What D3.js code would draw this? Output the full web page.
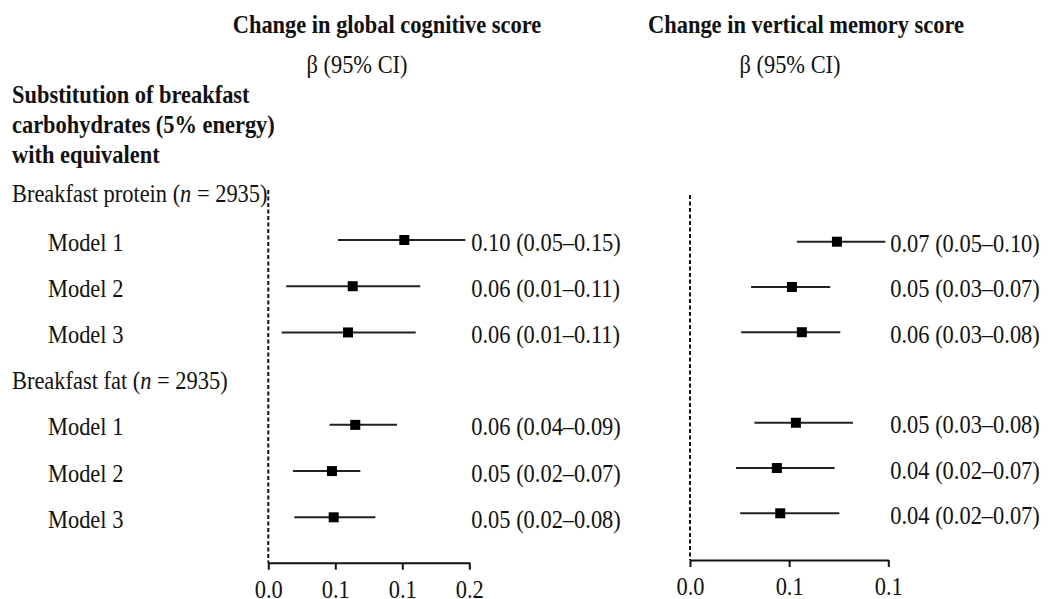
<!DOCTYPE html>
<html lang="en">
	<head>
		<meta charset="utf-8">
		<title>Breakfast macronutrient substitution forest plot</title>
		<script src="https://cdn.jsdelivr.net/npm/d3@7"></script>
		<style>
			body { margin: 0; background: #fff; }
			text { font-family: "Liberation Serif", "Times New Roman", serif; fill: #111; }
		</style>
	</head>
	<body>
		<script type="text/javascript">
			// data
			var groups = ["Breakfast protein", "Breakfast fat"];
			var groupN = [2935, 2935];
			var models = ["Model 1", "Model 2", "Model 3"];

			// change in global cognitive score
			var globalBeta = [0.1015, 0.063, 0.0595, 0.0649, 0.0475, 0.0488];
			var globalLow = [0.052, 0.0134, 0.010, 0.0458, 0.0184, 0.0194];
			var globalHigh = [0.147, 0.1134, 0.110, 0.096, 0.0687, 0.0799];
			var globalText = ["0.10 (0.05\u20130.15)", "0.06 (0.01\u20130.11)", "0.06 (0.01\u20130.11)",
				"0.06 (0.04\u20130.09)", "0.05 (0.02\u20130.07)", "0.05 (0.02\u20130.08)"];
			var globalTicks = [0, 0.05, 0.10, 0.15];
			var globalTickLabels = ["0.0", "0.1", "0.1", "0.2"];

			// change in vertical memory score
			var memoryBeta = [0.0741, 0.0514, 0.0564, 0.0534, 0.0438, 0.0455];
			var memoryLow = [0.0539, 0.0308, 0.0258, 0.0325, 0.0232, 0.0253];
			var memoryHigh = [0.0985, 0.0707, 0.0758, 0.0822, 0.0729, 0.0753];
			var memoryText = ["0.07 (0.05\u20130.10)", "0.05 (0.03\u20130.07)", "0.06 (0.03\u20130.08)",
				"0.05 (0.03\u20130.08)", "0.04 (0.02\u20130.07)", "0.04 (0.02\u20130.07)"];
			var memoryTicks = [0, 0.05, 0.10];
			var memoryTickLabels = ["0.0", "0.1", "0.1"];

			// layout
			var width = 1048;
			var height = 599;
			var font_size = 25.5;
			var squeeze = 0.88;                 // the source font is narrow and tall
			var rowIndex = [1, 2, 3, 5, 6, 7]; // slots of the model rows
			var groupIndex = [-0.05, 4];        // slots of the group headers

			var svg = d3.select("body").append("svg").attr("width", width).attr("height", height);
			svg.append("rect").attr("width", width).attr("height", height).attr("fill", "#fff");

			// place a squeezed text at x, y
			function place(sel, x, y) {
				return sel.attr("transform", function (d, i) {
					var xx = typeof x === "function" ? x(d, i) : x;
					var yy = typeof y === "function" ? y(d, i) : y;
					return "translate(" + xx + "," + yy + ") scale(" + squeeze + ",1)";
				}).style("font-size", font_size + "px");
			}

			var panels = [
				{
					title: "Change in global cognitive score", titleX: 387, betaX: 357,
					beta: globalBeta, low: globalLow, high: globalHigh, text: globalText,
					ticks: globalTicks, tickLabels: globalTickLabels,
					x: d3.scaleLinear().domain([0, 0.15]).range([268.3, 469.3]),
					y: d3.scaleLinear().domain([1, 7]).range([240, 517.3]),
					axisY: 562.7, refTop: 190
				},
				{
					title: "Change in vertical memory score", titleX: 806, betaX: 790,
					beta: memoryBeta, low: memoryLow, high: memoryHigh, text: memoryText,
					ticks: memoryTicks, tickLabels: memoryTickLabels,
					x: d3.scaleLinear().domain([0, 0.10]).range([690, 888.3]),
					y: d3.scaleLinear().domain([1, 7]).range([241.7, 513.3]),
					axisY: 560, refTop: 195
				}
			];

			// left hand labels
			var header = ["Substitution of breakfast", "carbohydrates (5% energy)", "with equivalent"];
			place(svg.selectAll("text.header")
				.data(header)
				.enter()
				.append("text")
				.attr("class", "header"), 12, function (d, i) { return 103 + i * 30; })
				.style("font-weight", "bold")
				.text(function (d) { return d; });

			var yLeft = panels[0].y;
			groups.forEach(function (g, gi) {
				var t = place(svg.append("text"), 12, yLeft(groupIndex[gi]) + 10.5);
				t.append("tspan").text(g + " (");
				t.append("tspan").style("font-style", "italic").text("n");
				t.append("tspan").text(" = " + groupN[gi] + ")");
			});

			place(svg.selectAll("text.model")
				.data(rowIndex)
				.enter()
				.append("text")
				.attr("class", "model"), 48, function (d) { return yLeft(d) + 10.5; })
				.text(function (d, i) { return models[i % 3]; });

			panels.forEach(function (p) {
				var g = svg.append("g");
				var x1 = p.x.range()[1];

				// titles
				place(g.append("text"), p.titleX, 33)
					.attr("text-anchor", "middle")
					.style("font-weight", "bold")
					.text(p.title);
				place(g.append("text"), p.betaX, 73)
					.attr("text-anchor", "middle")
					.text("\u03b2 (95% CI)");

				// reference line at zero
				g.append("line")
					.attr("x1", p.x(0)).attr("x2", p.x(0))
					.attr("y1", p.refTop).attr("y2", p.axisY)
					.attr("stroke", "#111")
					.attr("stroke-width", 2)
					.attr("stroke-dasharray", "4,2.5");

				// axis
				var axis = d3.axisBottom(p.x)
					.tickValues(p.ticks)
					.tickFormat(function (d, i) { return p.tickLabels[i]; })
					.tickSizeInner(7)
					.tickSizeOuter(0)
					.tickPadding(10);
				var ax = g.append("g")
					.attr("transform", "translate(0," + p.axisY + ")")
					.call(axis);
				ax.select(".domain").attr("stroke", "#111").attr("stroke-width", 2);
				ax.selectAll(".tick line").attr("stroke", "#111").attr("stroke-width", 2);
				ax.selectAll(".tick text")
					.attr("transform", "scale(" + squeeze + ",1)")
					.style("font-family", "'Liberation Serif', 'Times New Roman', serif")
					.style("font-size", font_size + "px")
					.attr("fill", "#111");

				// confidence intervals
				g.selectAll("line.ci")
					.data(p.beta)
					.enter()
					.append("line")
					.attr("class", "ci")
					.attr("x1", function (d, i) { return p.x(p.low[i]); })
					.attr("x2", function (d, i) { return p.x(p.high[i]); })
					.attr("y1", function (d, i) { return p.y(rowIndex[i]); })
					.attr("y2", function (d, i) { return p.y(rowIndex[i]); })
					.attr("stroke", "#222")
					.attr("stroke-width", 2);

				// point estimates
				g.selectAll("rect.est")
					.data(p.beta)
					.enter()
					.append("rect")
					.attr("class", "est")
					.attr("x", function (d) { return p.x(d) - 5; })
					.attr("y", function (d, i) { return p.y(rowIndex[i]) - 5; })
					.attr("width", 10)
					.attr("height", 10)
					.attr("fill", "#000");

				// value labels
				place(g.selectAll("text.val")
					.data(p.text)
					.enter()
					.append("text")
					.attr("class", "val"), x1 + 2, function (d, i) { return p.y(rowIndex[i]) + 10.5; })
					.text(function (d) { return d; });
			});
		</script>
	</body>
</html>
